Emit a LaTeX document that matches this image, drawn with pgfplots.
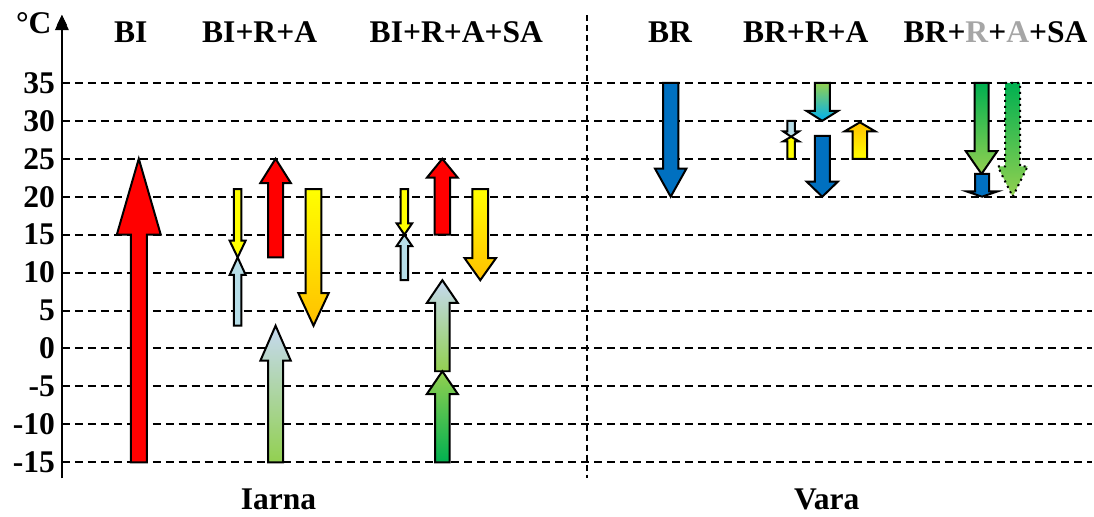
\documentclass[border=0pt]{standalone}
\usepackage{pgfplots}
\pgfplotsset{compat=1.18}
\usepackage{fontspec}
\setmainfont{Liberation Serif}
\usetikzlibrary{arrows.meta}
\definecolor{cred}{HTML}{FF0000}
\definecolor{cyellow}{HTML}{FFFF00}
\definecolor{corange}{HTML}{FFC000}
\definecolor{clblue}{HTML}{B7DEE8}
\definecolor{cpale}{HTML}{C6D9F1}
\definecolor{cgreen}{HTML}{92D050}
\definecolor{cdgreen}{HTML}{00B050}
\definecolor{cblue}{HTML}{0070C0}
\definecolor{ccyan}{HTML}{00B0F0}
\definecolor{cgrey}{HTML}{A6A6A6}
\newcommand{\lf}{\fontsize{15.8}{18}\selectfont\bfseries}
\begin{document}
\begin{tikzpicture}
\begin{axis}[
  scale only axis, width=516pt, height=232pt,
  xmin=62, xmax=1094, ymin=-17.105, ymax=43.947,
  axis y line=left, axis x line=none, clip=false,
  xtick=\empty, ytick={-15,-10,...,35}, major tick length=0pt,
  ymajorgrids,
  major grid style={black, line width=1pt, dash pattern=on 4pt off 2.5pt},
  yticklabel style={font=\lf},
  /pgf/number format/assume math mode=true,
  y axis line style={line width=1.25pt},
  arr/.style={draw=black, line width=1pt, line join=miter, mark=none},
]
\path (axis cs:0,45.92) rectangle (axis cs:1094,-21.97);
\draw[line width=1pt, dash pattern=on 3pt off 2pt] (axis cs:587.5,43.9) -- (axis cs:587.5,-17.1);
\fill[black] (axis cs:55,41.95) -- (axis cs:69,41.95) -- (axis cs:62,43.95) -- cycle;

% BI
\addplot[arr, fill=cred] coordinates {(131,-15) (147,-15) (147,15) (161,15) (139,25) (117,15) (131,15)} -- cycle;
% BI+R+A
\addplot[arr, fill=cyellow] coordinates {(234.2,21) (241.8,21) (241.8,14.2) (246,14.2) (238,12) (230,14.2) (234.2,14.2)} -- cycle;
\addplot[arr, fill=clblue] coordinates {(234.2,3) (241.8,3) (241.8,9.7) (246,9.7) (238,12) (230,9.7) (234.2,9.7)} -- cycle;
\addplot[arr, fill=cred] coordinates {(268.5,12) (283.5,12) (283.5,21.8) (291.3,21.8) (276,25) (260.7,21.8) (268.5,21.8)} -- cycle;
\addplot[arr, top color=cyellow, bottom color=corange] coordinates {(306.2,21) (321.8,21) (321.8,7.3) (329.2,7.3) (314,3) (298.8,7.3) (306.2,7.3)} -- cycle;
\addplot[arr, top color=cpale, bottom color=cgreen] coordinates {(268.5,-15) (283.5,-15) (283.5,-1.6) (291.2,-1.6) (276,3) (260.8,-1.6) (268.5,-1.6)} -- cycle;
% BI+R+A+SA
\addplot[arr, fill=cyellow] coordinates {(401.2,21) (408.8,21) (408.8,16.5) (412.8,16.5) (405,15) (397.2,16.5) (401.2,16.5)} -- cycle;
\addplot[arr, fill=clblue] coordinates {(401.2,9) (408.8,9) (408.8,13.5) (412.8,13.5) (405,15) (397.2,13.5) (401.2,13.5)} -- cycle;
\addplot[arr, fill=cred] coordinates {(435.2,15) (450.8,15) (450.8,22.5) (458.5,22.5) (443,25) (427.5,22.5) (435.2,22.5)} -- cycle;
\addplot[arr, top color=cyellow, bottom color=corange] coordinates {(473.2,21) (488.8,21) (488.8,11.9) (496.7,11.9) (481,9) (465.3,11.9) (473.2,11.9)} -- cycle;
\addplot[arr, top color=cpale, bottom color=cgreen] coordinates {(435.7,-3) (450.3,-3) (450.3,6) (458.5,6) (443,9) (427.5,6) (435.7,6)} -- cycle;
\addplot[arr, top color=cgreen, bottom color=cdgreen] coordinates {(435.7,-15) (450.3,-15) (450.3,-6) (458.5,-6) (443,-3) (427.5,-6) (435.7,-6)} -- cycle;
% BR
\addplot[arr, fill=cblue] coordinates {(664,35) (679.4,35) (679.4,23.7) (687.4,23.7) (671.7,20) (656,23.7) (664,23.7)} -- cycle;
% BR+R+A
\addplot[arr, top color=cgreen, bottom color=ccyan] coordinates {(816,35) (831,35) (831,31.3) (839.2,31.3) (823.5,30) (807.8,31.3) (816,31.3)} -- cycle;
\addplot[arr, fill=clblue] coordinates {(788.6,30) (796,30) (796,28.6) (800.1,28.6) (792.3,27.9) (784.5,28.6) (788.6,28.6)} -- cycle;
\addplot[arr, fill=cyellow] coordinates {(788.6,25) (796,25) (796,27.3) (800.1,27.3) (792.3,27.9) (784.5,27.3) (788.6,27.3)} -- cycle;
\addplot[arr, fill=cblue] coordinates {(816,28) (831,28) (831,22) (839.2,22) (823.5,20) (807.8,22) (816,22)} -- cycle;
\addplot[arr, top color=corange, bottom color=cyellow] coordinates {(854,25) (868.4,25) (868.4,28.6) (876.7,28.6) (861.2,29.8) (845.7,28.6) (854,28.6)} -- cycle;
% BR+R+A+SA
\addplot[arr, top color=cdgreen, bottom color=cgreen] coordinates {(976,35) (990,35) (990,26) (998.8,26) (983,23) (967.2,26) (976,26)} -- cycle;
\addplot[arr, fill=cblue] coordinates {(976.5,23) (990.5,23) (990.5,20.7) (999,20.7) (983.5,20) (968,20.7) (976.5,20.7)} -- cycle;
\addplot[arr, dotted, top color=cdgreen, bottom color=cgreen] coordinates {(1006.7,35) (1021.7,35) (1021.7,24) (1029.2,24) (1014.2,20) (999.2,24) (1006.7,24)} -- cycle;

% labels
\node[font=\lf, anchor=base east, inner sep=0pt] at (axis cs:52,41.5) {°C};
\node[font=\lf, anchor=base] at (axis cs:131,40.35) {BI};
\node[font=\lf, anchor=base] at (axis cs:260,40.35) {BI+R+A};
\node[font=\lf, anchor=base] at (axis cs:457,40.35) {BI+R+A+SA};
\node[font=\lf, anchor=base] at (axis cs:671,40.35) {BR};
\node[font=\lf, anchor=base] at (axis cs:807,40.35) {BR+R+A};
\node[font=\lf, anchor=base] at (axis cs:997,40.35) {BR+\textcolor{cgrey}{R}+\textcolor{cgrey}{A}+SA};
\node[font=\lf, anchor=base] at (axis cs:279,-21.2) {Iarna};
\node[font=\lf, anchor=base] at (axis cs:828,-21.2) {Vara};
\end{axis}
\end{tikzpicture}
\end{document}
